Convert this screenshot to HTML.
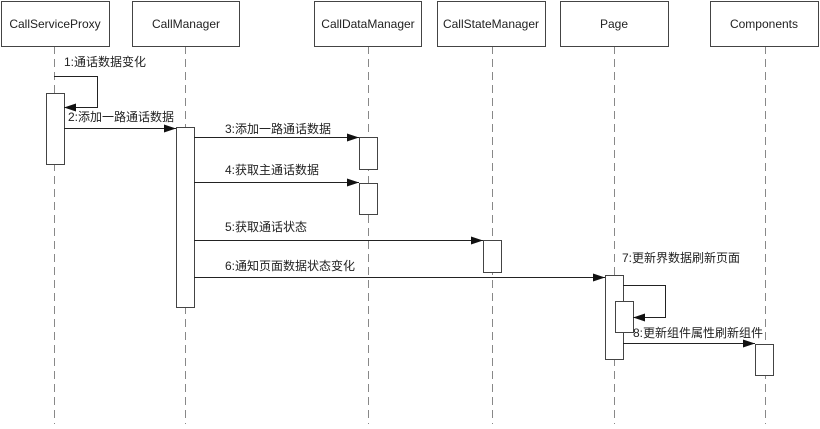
<!DOCTYPE html>
<html><head><meta charset="utf-8"><style>
html,body{margin:0;padding:0;background:#fff;}
svg text{font-family:"Liberation Sans","Noto Sans CJK SC",sans-serif;font-size:12px;fill:#222;}
</style></head><body>
<svg width="820" height="424" viewBox="0 0 820 424" xmlns="http://www.w3.org/2000/svg">
<defs><marker id="a" markerWidth="12" markerHeight="8" refX="12" refY="4" orient="auto" markerUnits="userSpaceOnUse"><path d="M0,0 L12,4 L0,8 z" fill="#111"/></marker></defs>
<g stroke="#888" stroke-width="1" stroke-dasharray="8,5">
<line x1="54.5" y1="46" x2="54.5" y2="424"/><line x1="185.5" y1="46" x2="185.5" y2="424"/>
<line x1="368.5" y1="46" x2="368.5" y2="424"/><line x1="492.5" y1="46" x2="492.5" y2="424"/>
<line x1="614.5" y1="46" x2="614.5" y2="424"/><line x1="765.5" y1="46" x2="765.5" y2="424"/>
</g>
<g fill="#fff" stroke="#444" stroke-width="1">
<rect x="1.5" y="1.5" width="108" height="45"/><rect x="132.5" y="1.5" width="107" height="45"/>
<rect x="314.5" y="1.5" width="107" height="45"/><rect x="437.5" y="1.5" width="108" height="45"/>
<rect x="560.5" y="1.5" width="108" height="45"/><rect x="710.5" y="1.5" width="108" height="45"/>
<rect x="46.5" y="93.5" width="18" height="71"/><rect x="176.5" y="127.5" width="18" height="180"/>
<rect x="359.5" y="137.5" width="18" height="32"/><rect x="359.5" y="183.5" width="18" height="31"/>
<rect x="483.5" y="240.5" width="18" height="32"/><rect x="605.5" y="275.5" width="18" height="84"/>
<rect x="615.5" y="301.5" width="18" height="31"/><rect x="755.5" y="344.5" width="18" height="31"/>
</g>
<g text-anchor="middle"><text x="55" y="28">CallServiceProxy</text><text x="186" y="28">CallManager</text>
<text x="368" y="28">CallDataManager</text><text x="491" y="28">CallStateManager</text>
<text x="614" y="28">Page</text><text x="764" y="28">Components</text></g>
<g stroke="#222" stroke-width="1" fill="none">
<polyline points="54,76.5 97.5,76.5 97.5,107.5 64,107.5" marker-end="url(#a)"/>
<line x1="64" y1="128.5" x2="176" y2="128.5" marker-end="url(#a)"/>
<line x1="194" y1="137.5" x2="359" y2="137.5" marker-end="url(#a)"/>
<line x1="194" y1="182.5" x2="359" y2="182.5" marker-end="url(#a)"/>
<line x1="194" y1="240.5" x2="483" y2="240.5" marker-end="url(#a)"/>
<line x1="194" y1="277.5" x2="605" y2="277.5" marker-end="url(#a)"/>
<polyline points="623,285.5 665.5,285.5 665.5,317.5 633,317.5" marker-end="url(#a)"/>
<line x1="623" y1="343.5" x2="755" y2="343.5" marker-end="url(#a)"/>
</g>
<text x="64" y="66">1:通话数据变化</text>
<text x="68" y="121">2:添加一路通话数据</text>
<text x="225" y="133">3:添加一路通话数据</text>
<text x="225" y="174">4:获取主通话数据</text>
<text x="225" y="231">5:获取通话状态</text>
<text x="225" y="270">6:通知页面数据状态变化</text>
<text x="622" y="262">7:更新界数据刷新页面</text>
<text x="633" y="337">8:更新组件属性刷新组件</text>
</svg>
</body></html>
